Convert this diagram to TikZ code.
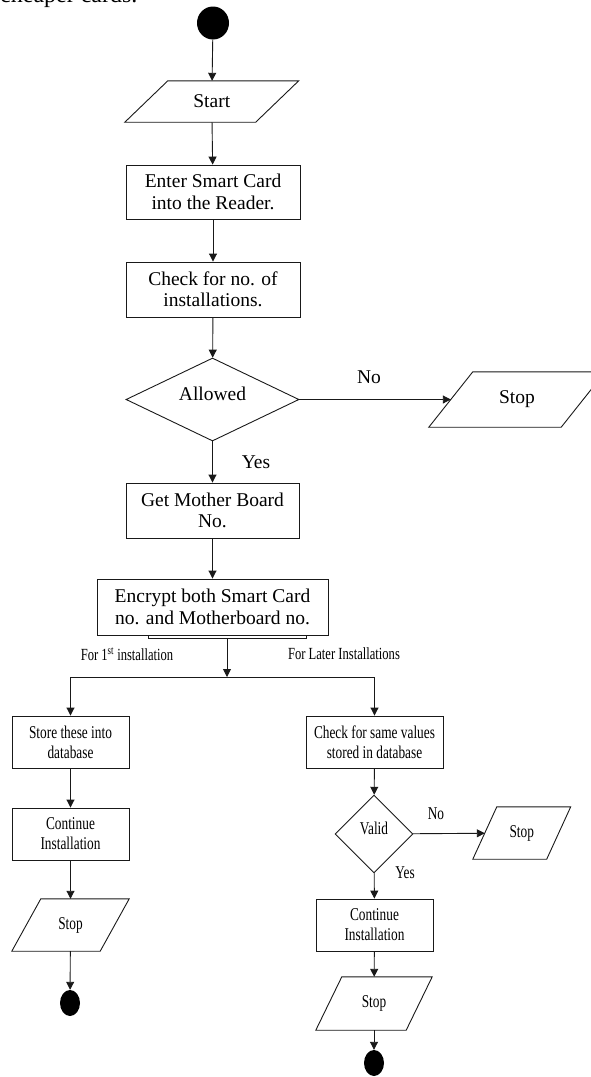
\documentclass[tikz,border=0pt]{standalone}
\usepackage{fontspec}
\setmainfont{Liberation Serif}
\newfontfamily\condfont[FakeStretch=0.74]{Liberation Serif}
\usetikzlibrary{arrows.meta,positioning,calc,shapes.geometric}
\newcommand{\bigtxt}{\fontsize{19.5}{21.5}\selectfont}
\newcommand{\smalltxt}{\condfont\fontsize{18}{20}\selectfont}
\newcommand{\labtxt}{\condfont\fontsize{17}{19}\selectfont}
\tikzset{
  line/.style     = {draw=black!90, line width=0.9pt},
  block/.style    = {line, rectangle, inner sep=0pt, align=center, fill=white},
  bigblock/.style = {block, font=\bigtxt},
  smallblock/.style = {block, font=\smalltxt, minimum width=117pt, minimum height=52pt},
  decision/.style = {line, diamond, inner sep=0pt, align=center, text depth=12pt},
  iobox/.style    = {rectangle, inner sep=0pt, align=center},
  dot/.style      = {fill=black, ellipse, inner sep=0pt},
  sig/.style      = {-{Triangle[length=8pt,width=8pt]}, line},
}
% slanted input/output frame round a plain node
\newcommand{\ioframe}[2]{\draw[line] ($(#1.north west)+(#2,0)$) -- ($(#1.north east)+(#2,0)$)
  -- ($(#1.south east)-(#2,0)$) -- ($(#1.south west)-(#2,0)$) -- cycle;}

\begin{document}
\begin{tikzpicture}[x=1pt,y=-1pt]
\useasboundingbox (0,0) rectangle (591,1077);
\node[font=\fontsize{24}{26}\selectfont, anchor=base west, inner sep=0pt] (prevline) at (0,2) {cheaper cards.};
% main column
\node[dot, minimum width=32pt, minimum height=33pt] (begin) at (213,23) {};
\node[iobox, font=\bigtxt, minimum width=130.5pt, minimum height=41pt] (start) at (211.75,101.5) {Start};
\ioframe{start}{21.5}
\node[bigblock, minimum width=174pt, minimum height=54pt] (enter) at (213,192) {Enter Smart Card\\into the Reader.};
\node[bigblock, minimum width=174pt, minimum height=55pt] (check) at (213,289.5) {Check for no. of\\installations.};
\node[decision, aspect=2.08, font=\bigtxt, minimum width=173pt, minimum height=83pt] (allowed) at (212.5,399.5) {Allowed};
\node[iobox, font=\bigtxt, minimum width=132pt, minimum height=55pt] (stopA) at (517,399.5) {Stop};
\ioframe{stopA}{22}
\node[bigblock, minimum width=173pt, minimum height=55pt] (getmb) at (212.5,510.5) {Get Mother Board\\No.};
\node[block, minimum width=158pt, minimum height=30pt] (encback) at (227,623) {};
\node[bigblock, minimum width=231pt, minimum height=56pt] (encrypt) at (212.5,607) {Encrypt both Smart Card\\no. and Motherboard no.};
\coordinate (split) at (227,677);
\draw[sig] (begin) -- (start);
\draw[sig] (start) -- (enter);
\draw[sig] (enter) -- (check);
\draw[sig] (check) -- (allowed);
\draw[sig] (allowed) -- (stopA);
\draw[sig] (allowed) -- (getmb);
\draw[sig] (getmb) -- (encrypt);
\draw[sig] (encback) -- (split);
\node[font=\bigtxt] (noA) at (369,377) {No};
\node[font=\bigtxt] (yesA) at (256,462) {Yes};
\node[font=\labtxt] (first) at (127,654) {For 1\textsuperscript{st} installation};
\node[font=\labtxt] (later) at (344,654) {For Later Installations};
% first installation
\node[smallblock] (store) at (70.5,742) {Store these into\\database};
\node[smallblock] (contL) at (70.5,834) {Continue\\Installation};
\node[iobox, font=\smalltxt, minimum width=88pt, minimum height=52pt] (stopL) at (70.5,925) {Stop};
\ioframe{stopL}{14.5}
\node[dot, minimum width=20pt, minimum height=26pt] (endL) at (70,1003) {};
% later installations
\node[smallblock, minimum width=137pt] (samev) at (374.5,742) {Check for same values\\stored in database};
\node[decision, font=\smalltxt, minimum width=78pt, minimum height=78pt] (valid) at (374,834) {Valid};
\node[iobox, font=\smalltxt, minimum width=73.5pt, minimum height=52pt] (stopV) at (521.75,833) {Stop};
\ioframe{stopV}{12}
\node[smallblock] (contR) at (374.5,925) {Continue\\Installation};
\node[iobox, font=\smalltxt, minimum width=90pt, minimum height=53pt] (stopR) at (374,1003.5) {Stop};
\ioframe{stopR}{13}
\node[dot, minimum width=20pt, minimum height=26pt] (endR) at (374,1063) {};
\node[font=\smalltxt] (noV) at (436,814) {No};
\node[font=\smalltxt] (yesV) at (405,873) {Yes};
\draw[line] (store.north |- split) -- (samev.north |- split);
\draw[sig] (store.north |- split) -- (store);
\draw[sig] (samev.north |- split) -- (samev);
\draw[sig] (store) -- (contL);
\draw[sig] (contL) -- (stopL);
\draw[sig] (stopL) -- (endL);
\draw[sig] (samev) -- (valid);
\draw[sig] (valid) -- (stopV);
\draw[sig] (valid) -- (contR);
\draw[sig] (contR) -- (stopR);
\draw[sig] (stopR) -- (endR);
\end{tikzpicture}
\end{document}
